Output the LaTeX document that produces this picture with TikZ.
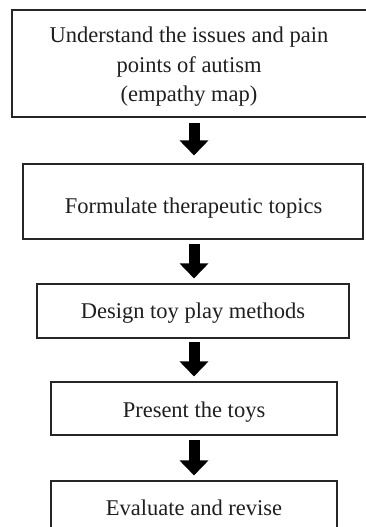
\documentclass[tikz,border=0pt]{standalone}
\usepackage{fontspec}
\setmainfont{Liberation Serif}
\usetikzlibrary{arrows.meta}
\begin{document}
\begin{tikzpicture}[x=1pt,y=-1pt,
  box/.style={draw=black!85,line width=1.1pt,rectangle,inner sep=0pt,fill=none},
  lbl/.style={inner sep=0pt,anchor=base,font=\fontsize{22.5}{30}\selectfont,text=black!88},
  bigarrow/.style={line width=11pt,draw=black,-{Triangle[width=28pt,length=15pt]}}]
\useasboundingbox (0,0) rectangle (365,527);
\fill[white] (0,0) rectangle (365,527);
\node[box,minimum width=355pt,minimum height=107pt] (b1) at (189.5,63.5) {};
\node[box,minimum width=340pt,minimum height=75pt] (b2) at (193,201.5) {};
\node[box,minimum width=312pt,minimum height=54pt] (b3) at (193,311) {};
\node[box,minimum width=286pt,minimum height=53pt] (b4) at (194,408.5) {};
\node[box,minimum width=286pt,minimum height=64pt] (b5) at (194,513) {};
\node[lbl] (t1a) at (189,43) {Understand the issues and pain};
\node[lbl] (t1b) at (189,73) {points of autism};
\node[lbl] (t1c) at (189,101) {(empathy map)};
\node[lbl] (t2) at (193.5,213) {Formulate therapeutic topics};
\node[lbl] (t3) at (193,318) {Design toy play methods};
\node[lbl] (t4) at (194,417) {Present the toys};
\node[lbl] (t5) at (194,515) {Evaluate and revise};
\coordinate (ax) at (194,0);
\draw[bigarrow] ([yshift=-5pt]b1.south -| ax) -- ([yshift=8pt]b2.north -| ax);
\draw[bigarrow] ([yshift=-4pt]b2.south -| ax) -- ([yshift=5pt]b3.north -| ax);
\draw[bigarrow] ([yshift=-3pt]b3.south -| ax) -- ([yshift=5pt]b4.north -| ax);
\draw[bigarrow] ([yshift=-4pt]b4.south -| ax) -- ([yshift=5pt]b5.north -| ax);
\end{tikzpicture}
\end{document}
